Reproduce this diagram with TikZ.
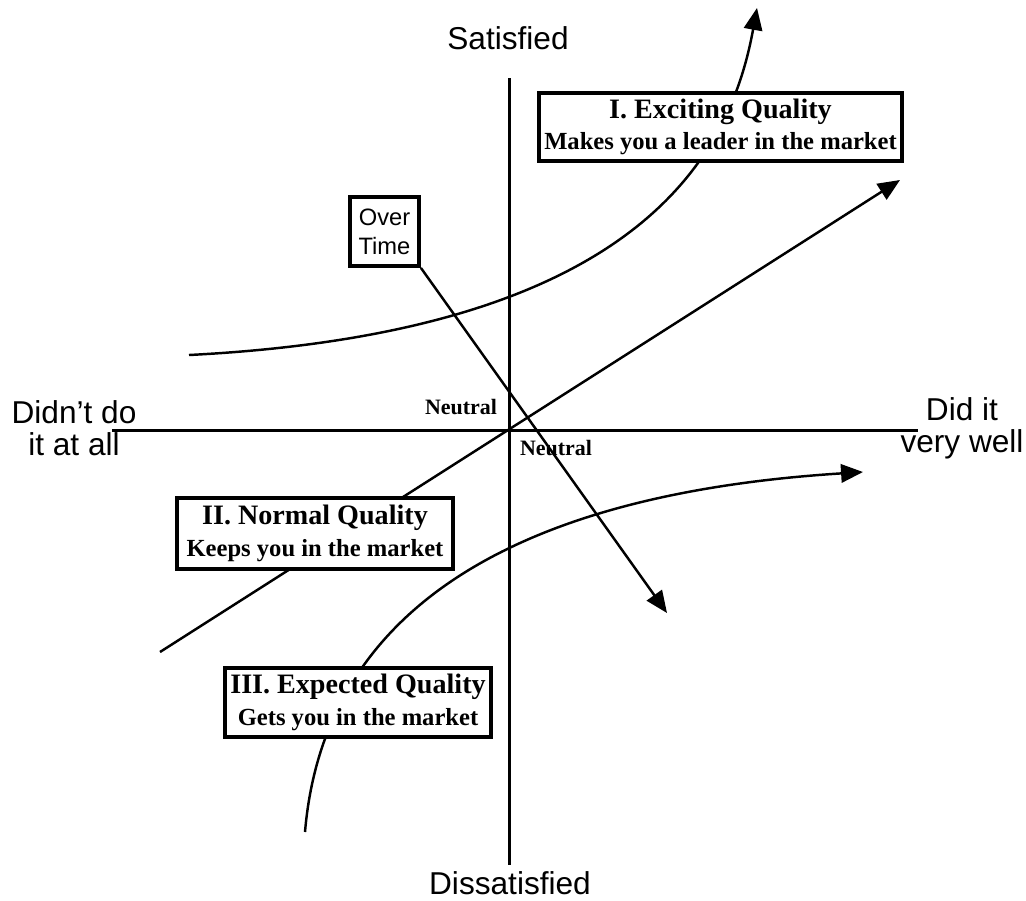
\documentclass[tikz,border=0pt]{standalone}
\usepackage{fontspec}
\setmainfont{Liberation Serif}
\setsansfont{Liberation Sans}
\usetikzlibrary{arrows.meta}
\begin{document}
\begin{tikzpicture}[x=0.02cm,y=-0.02cm,
  axis/.style={line width=1.7pt},
  curve/.style={line width=1.4pt, -{Triangle[length=12.5pt,width=10.5pt]}},
  qbox/.style={draw, line width=2.2pt, fill=white, align=center, inner sep=0pt,
    font=\bfseries\fontsize{14}{18}\selectfont},
  tbox/.style={draw, line width=2.2pt, fill=white, align=center, inner sep=0pt,
    font=\sffamily\fontsize{13.5}{16.5}\selectfont},
  axlabel/.style={font=\sffamily\fontsize{18}{18}\selectfont, align=center, inner sep=0pt},
  neutral/.style={font=\bfseries\fontsize{12.5}{13}\selectfont, inner sep=0pt}]

\useasboundingbox (0,0) rectangle (1026,900);

% axes
\coordinate (ytop) at (509,78);
\coordinate (ybot) at (509,865);
\coordinate (xl) at (112,430);
\coordinate (xr) at (918,430);
\draw[axis] (ytop) -- (ybot);
\draw[axis] (xl) -- (xr);

% quality curves
\coordinate (e0) at (189,355);
\coordinate (e1) at (757,8);
\draw[curve] (e0) .. controls (639,332) and (730,156) .. (e1);

\coordinate (n0) at (160,652);
\coordinate (n1) at (900,180);
\draw[curve] (n0) -- (n1);

\coordinate (x0) at (305,832);
\coordinate (x1) at (863,472);
\draw[curve] (x0) .. controls (327,572) and (580,490) .. (x1);

% boxes
\node[qbox, minimum width=7.26cm, minimum height=1.36cm] (q1) at (720.5,127)
  {{\fontsize{16}{18}\selectfont I. Exciting Quality}\\Makes you a leader in the market};
\node[qbox, minimum width=5.52cm, minimum height=1.42cm] (q2) at (315,533.5)
  {{\fontsize{16}{18}\selectfont II. Normal Quality}\\Keeps you in the market};
\node[qbox, minimum width=5.32cm, minimum height=1.38cm] (q3) at (358,702.5)
  {{\fontsize{16}{18}\selectfont III. Expected Quality}\\Gets you in the market};
\node[tbox, minimum width=1.38cm, minimum height=1.38cm] (ot) at (384.5,231.5) {Over\\Time};

% over time arrow
\coordinate (otend) at (667,613);
\draw[curve] (ot.south east) -- (otend);

% labels
\node[neutral] (nu1) at (461,407) {Neutral};
\node[neutral] (nu2) at (556,448) {Neutral};
\node[axlabel] (sat) at (508,38) {Satisfied};
\node[axlabel] (dis) at (510,883) {Dissatisfied};
\node[axlabel] (lft) at (74,428) {Didn't do\\it at all};
\node[axlabel] (rgt) at (962,428) {Did it\\very well};
\end{tikzpicture}
\end{document}
